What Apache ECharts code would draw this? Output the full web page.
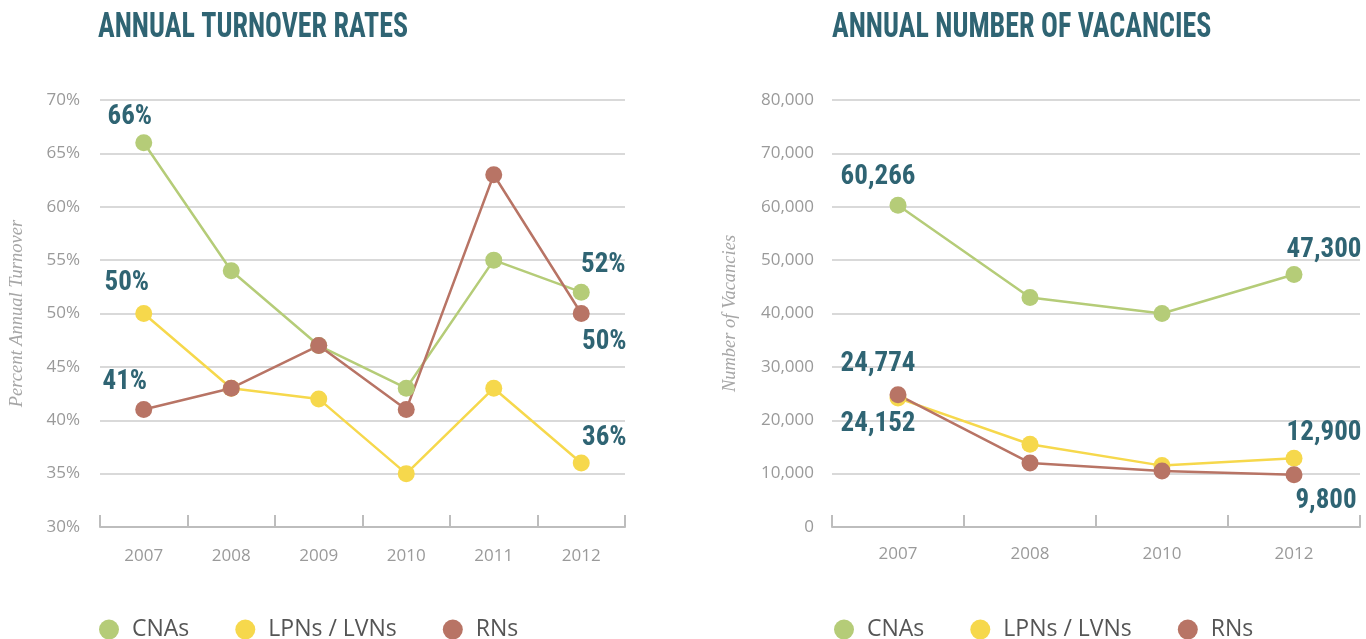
<!DOCTYPE html>
<html>
<head>
<meta charset="utf-8">
<script src="https://cdn.jsdelivr.net/npm/echarts@6/dist/echarts.min.js"></script>
<style>
  html, body { margin: 0; padding: 0; background: #fff; }
  #chart { width: 1366px; height: 639px; }
</style>
</head>
<body>
<div id="chart"></div>
<script>
// turnover chart
const turnoverYears = ["2007", "2008", "2009", "2010", "2011", "2012"];
const cnaTurnover = [66, 54, 47, 43, 55, 52];
const lpnTurnover = [50, 43, 42, 35, 43, 36];
const rnTurnover = [41, 43, 47, 41, 63, 50];

// vacancies chart
const vacancyYears = ["2007", "2008", "2010", "2012"];
const cnaVacancies = [60266, 43000, 40000, 47300];
const lpnVacancies = [24152, 15500, 11500, 12900];
const rnVacancies = [24774, 12000, 10500, 9800];

const seriesNames = ["CNAs", "LPNs / LVNs", "RNs"];
const colors = ["#b5cc78", "#f6d84c", "#b87465"];

const TEAL = "#2f6473";
const HEAD = "'Roboto Condensed', 'Liberation Sans Narrow', Roboto, sans-serif";
const SANS = "'Open Sans', sans-serif";

const fmtPct = v => v + "%";
const fmtNum = v => v.toLocaleString("en-US");

// attach a label to selected points; offsets = { index: [dx, dy] }
function labelled(values, offsets, fmt) {
  return values.map((v, i) => {
    if (!offsets[i]) return v;
    return {
      value: v,
      label: {
        show: true, position: "inside", offset: offsets[i],
        formatter: () => fmt(v),
        fontFamily: HEAD, fontWeight: "bold", fontSize: 27, color: TEAL,
      },
    };
  });
}

function line(name, idx, data) {
  const c = colors[seriesNames.indexOf(name)];
  return {
    name, type: "line", xAxisIndex: idx, yAxisIndex: idx, data,
    symbol: "circle", symbolSize: 17,
    lineStyle: { color: c, width: 2.5 },
    itemStyle: { color: c },
    label: { show: false },
    emphasis: { disabled: true },
    animation: false, z: 2,
  };
}

function xAxis(idx, data, margin) {
  return {
    type: "category", gridIndex: idx, data, boundaryGap: true,
    axisLine: { lineStyle: { color: "#bdbdbd", width: 2 } },
    axisTick: { show: true, inside: true, length: 12, lineStyle: { color: "#bdbdbd", width: 2 } },
    axisLabel: { color: "#9a9a9a", fontFamily: SANS, fontSize: 17, margin },
  };
}

function yAxis(idx, opts) {
  return Object.assign({
    type: "value", gridIndex: idx,
    axisLine: { show: false }, axisTick: { show: false },
    splitLine: { lineStyle: { color: "#cccccc", width: 1.5 } },
    nameLocation: "middle", nameRotate: 90,
    nameTextStyle: { fontFamily: "'Liberation Serif', serif", fontStyle: "italic", fontSize: 18.5, color: "#a6a6a6" },
  }, opts);
}

function legend(left) {
  return {
    left, top: 613, itemWidth: 36, itemHeight: 20, itemGap: 46,
    icon: "circle", selectedMode: false,
    data: seriesNames,
    textStyle: { fontFamily: SANS, fontSize: 23, color: "#555555" },
  };
}

function heading(text, x, sx) {
  return {
    type: "text", x, y: 11, scaleX: sx, silent: true,
    style: { text, fontFamily: HEAD, fontWeight: "bold", fontSize: 35, fill: TEAL, verticalAlign: "top" },
  };
}

const chart = echarts.init(document.getElementById("chart"), null, { renderer: "canvas" });
chart.setOption({
  backgroundColor: "#fff",
  color: colors,
  graphic: [
    heading("ANNUAL TURNOVER RATES", 98, 0.8),
    heading("ANNUAL NUMBER OF VACANCIES", 832, 0.8),
  ],
  legend: [legend(94), legend(829)],
  grid: [
    { left: 100, top: 100, width: 525, height: 427 },
    { left: 832, top: 100, width: 528, height: 427 },
  ],
  xAxis: [xAxis(0, turnoverYears, 21), xAxis(1, vacancyYears, 19)],
  yAxis: [
    yAxis(0, { min: 30, max: 70, interval: 5, name: "Percent Annual Turnover", nameGap: 73,
      axisLabel: { color: "#9a9a9a", fontFamily: SANS, fontSize: 17, margin: 20, formatter: "{value}%" } }),
    yAxis(1, { min: 0, max: 80000, interval: 10000, name: "Number of Vacancies", nameGap: 92,
      axisLabel: { color: "#9a9a9a", fontFamily: SANS, fontSize: 17, margin: 18, formatter: v => fmtNum(v) } }),
  ],
  series: [
    line("CNAs", 0, labelled(cnaTurnover, { 0: [-14, -25], 5: [22, -27] }, fmtPct)),
    line("LPNs / LVNs", 0, labelled(lpnTurnover, { 0: [-17, -30], 5: [23, -25] }, fmtPct)),
    line("RNs", 0, labelled(rnTurnover, { 0: [-19, -27], 5: [23, 29] }, fmtPct)),
    line("CNAs", 1, labelled(cnaVacancies, { 0: [-20, -28], 3: [30, -24] }, fmtNum)),
    line("LPNs / LVNs", 1, labelled(lpnVacancies, { 0: [-20, 26], 3: [30, -25] }, fmtNum)),
    line("RNs", 1, labelled(rnVacancies, { 0: [-20, -31], 3: [32, 27] }, fmtNum)),
  ],
});
</script>
</body>
</html>
